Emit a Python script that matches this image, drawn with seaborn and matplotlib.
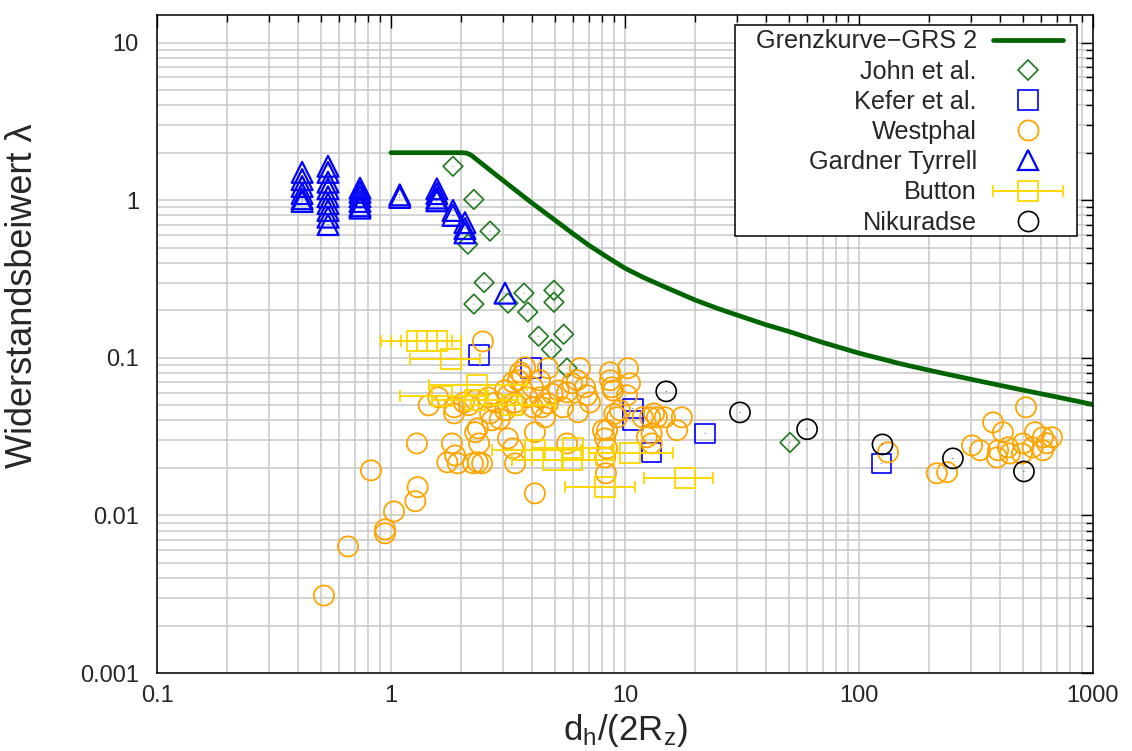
import numpy as np
import matplotlib
matplotlib.use("Agg")
import matplotlib.pyplot as plt
import seaborn as sns
from matplotlib.lines import Line2D
from matplotlib.patches import Rectangle
from matplotlib.ticker import FixedLocator, FixedFormatter, LogLocator, NullFormatter
from matplotlib.legend_handler import HandlerErrorbar
from matplotlib.container import ErrorbarContainer

# ---------------- data ----------------
grenz_x = [1.0, 2.0, 2.1, 2.2, 2.5, 3.0, 3.5, 4.0, 5.0, 6.0, 7.0, 8.5, 10.0, 12.0, 15.0, 20.0, 25.0, 30.0,
           40.0, 50.0, 70.0, 100.0, 150.0, 200.0, 300.0, 500.0, 700.0, 1000.0]
grenz_y = [2.0, 2.0, 1.99, 1.93, 1.66, 1.34, 1.12, 0.96, 0.75, 0.612, 0.518, 0.43, 0.37, 0.323, 0.279, 0.232,
           0.205, 0.187, 0.162, 0.147, 0.125, 0.107, 0.0917, 0.0832, 0.0731, 0.0624, 0.0564, 0.0505]

john_x = [1.84, 2.26, 2.65, 2.13, 2.50, 2.26, 3.16, 3.70, 3.84, 4.97, 4.97, 4.27, 5.47, 4.85, 5.65, 50.7]
john_y = [1.64, 1.01, 0.636, 0.526, 0.30, 0.219, 0.222, 0.257, 0.195, 0.268, 0.225, 0.137, 0.141, 0.113, 0.086, 0.029]

kefer_x = [2.38, 3.96, 10.8, 10.8, 13.0, 22.0, 125.0]
kefer_y = [0.104, 0.086, 0.0478, 0.040, 0.025, 0.0332, 0.0214]

westphal_x = [0.517, 0.655, 0.943, 0.943, 1.03, 1.27, 1.30, 0.821, 1.29,
              2.47, 1.59, 1.45, 1.86, 1.86, 2.29, 2.35, 2.29, 2.38, 1.82, 1.88, 1.74, 1.93, 2.24, 2.35, 2.45,
              3.16, 3.32, 3.39, 2.92, 2.65, 3.07, 3.16, 3.39, 3.49, 3.63, 3.74, 4.12, 2.70, 3.07, 3.32, 3.56,
              3.45, 3.81, 4.04, 4.33, 4.69, 4.69, 4.33, 4.04, 4.12, 2.05, 2.15, 2.60, 2.80,
              4.55, 4.42, 5.43, 5.65, 6.24, 6.42, 6.75, 6.88, 6.30, 7.08, 5.65, 5.94, 5.20, 4.90,
              8.05, 8.22, 8.22, 8.29, 8.63, 8.80, 9.25, 9.52, 10.3, 10.5, 10.2, 12.4, 11.9, 8.63, 8.89, 8.38, 8.38, 9.0,
              12.8, 13.7, 14.8, 17.5, 16.7, 13.0, 13.0, 13.3,
              133.0, 215.0, 238.0, 304.0, 329.0, 374.0, 412.0, 389.0, 433.0, 442.0, 497.0, 502.0, 517.0, 565.0,
              611.0, 668.0, 611.0, 635.0, 393.0, 552.0]
westphal_y = [0.0031, 0.00635, 0.00815, 0.0077, 0.0106, 0.0123, 0.0151, 0.0193, 0.0286,
              0.127, 0.0561, 0.0499, 0.0485, 0.0444, 0.0537, 0.0357, 0.0337, 0.0286, 0.0286, 0.0240, 0.0217, 0.0214, 0.0214, 0.0217, 0.0214,
              0.0308, 0.0266, 0.0214, 0.0410, 0.0444, 0.0464, 0.0578, 0.0521, 0.0720, 0.0774, 0.0871, 0.0138, 0.0401, 0.0622, 0.0700, 0.0809,
              0.0499, 0.0561, 0.0485, 0.0561, 0.0513, 0.0858, 0.0720, 0.0650, 0.0337, 0.0520, 0.0500, 0.0560, 0.0520,
              0.0419, 0.0485, 0.0485, 0.0604, 0.0720, 0.0858, 0.0650, 0.0578, 0.0451, 0.0521, 0.0286, 0.0689, 0.0620, 0.0590,
              0.0347, 0.0308, 0.0233, 0.0185, 0.0809, 0.0650, 0.0419, 0.0464, 0.0858, 0.0689, 0.0578, 0.0313, 0.0419, 0.0720, 0.0620, 0.0347, 0.0266, 0.0440,
              0.0419, 0.0419, 0.0419, 0.0419, 0.0347, 0.0330, 0.0286, 0.0444,
              0.0251, 0.0185, 0.0188, 0.0278, 0.0259, 0.0389, 0.0337, 0.0233, 0.0270, 0.0247, 0.0247, 0.0286, 0.0485, 0.0337,
              0.0313, 0.0313, 0.0259, 0.0287, 0.0259, 0.0270]

gardner_x = [0.417] * 6 + [0.538] * 9 + [0.737] * 6 + [1.09] * 2 + [1.57] * 4 + [1.84] * 2 + [2.07] * 3 + [3.07]
gardner_y = [1.50, 1.35, 1.22, 1.10, 1.02, 0.98,
             1.64, 1.50, 1.30, 1.18, 1.05, 0.95, 0.86, 0.78, 0.70,
             1.19, 1.12, 1.05, 0.98, 0.92, 0.89,
             1.08, 1.04,
             1.18, 1.10, 1.03, 0.99,
             0.86, 0.80,
             0.72, 0.66, 0.62,
             0.257]

button_x = [1.29, 1.43, 1.57, 1.80, 2.33, 1.65, 2.28, 3.29, 4.12, 4.92, 5.93, 5.97, 10.5, 8.22, 18.0]
button_y = [0.127, 0.127, 0.127, 0.098, 0.067, 0.057, 0.054, 0.050, 0.026, 0.0224, 0.0224, 0.0266, 0.025, 0.0151, 0.0172]
button_xlo = [0.91, 1.00, 1.10, 1.21, 1.45, 1.09, 1.50, 2.20, 2.70, 3.30, 4.00, 4.00, 7.00, 5.53, 12.0]
button_xhi = [1.82, 1.99, 1.99, 2.40, 3.80, 2.60, 3.50, 5.00, 6.50, 7.50, 9.00, 9.00, 16.0, 11.0, 23.7]

nik_x = [15.0, 31.0, 60.0, 126.0, 252.0, 507.0]
nik_y = [0.0612, 0.045, 0.0352, 0.0282, 0.023, 0.019]

xtick_vals = [0.1, 1, 10, 100, 1000]
xtick_labels = ["0.1", "1", "10", "100", "1000"]
ytick_vals = [0.001, 0.01, 0.1, 1, 10]
ytick_labels = ["0.001", "0.01", "0.1", "1", "10"]

# ---------------- style ----------------
sns.set_theme(style="white")
plt.rcParams['font.family'] = ['Liberation Sans', 'DejaVu Sans']
plt.rcParams['mathtext.default'] = 'regular'

C_GREEN = "#006400"
C_DIAM = "#1f7a1f"
C_BLUE = "#0000ff"
C_ORANGE = "#ffa500"
C_GOLD = "#ffd700"
C_BLACK = "#000000"

fig = plt.figure(figsize=(11.32, 7.51), dpi=100)
ax = fig.add_axes([157 / 1132, 1 - 673 / 751, (1093 - 157) / 1132, (673 - 15) / 751])
ax.set_xscale("log")
ax.set_yscale("log")
ax.set_xlim(0.1, 1000)
ax.set_ylim(0.001, 14.95)

# grid
ax.set_axisbelow(True)
ax.grid(True, which="both", color="#c8c8c8", linewidth=1.1)

# curve
sns.lineplot(x=grenz_x, y=grenz_y, ax=ax, color=C_GREEN, linewidth=3.4, sort=False, zorder=2)

def pts(x, y, marker, size, color, lw):
    sns.scatterplot(x=x, y=y, ax=ax, marker=marker, s=size ** 2, facecolors="none",
                    edgecolors=color, linewidths=lw, zorder=3)
    sns.scatterplot(x=x, y=y, ax=ax, marker=".", s=2, color=color, edgecolors="none", zorder=3)

pts(john_x, john_y, "D", 10.0, C_DIAM, 1.2)
pts(kefer_x, kefer_y, "s", 14.0, C_BLUE, 1.2)
pts(westphal_x, westphal_y, "o", 14.5, C_ORANGE, 1.3)
pts(gardner_x, gardner_y, "^", 15.0, C_BLUE, 1.6)

bx = np.array(button_x)
xerr = np.vstack([bx - np.array(button_xlo), np.array(button_xhi) - bx])
eb = ax.errorbar(button_x, button_y, xerr=xerr, fmt="s", ms=14.0, mfc="none", mec=C_GOLD, mew=1.3,
                 ecolor=C_GOLD, elinewidth=1.4, capsize=4.5, capthick=1.4, zorder=4, label="Button")
pts(button_x, button_y, ".", 1.0, C_GOLD, 0.5)

pts(nik_x, nik_y, "o", 14.5, C_BLACK, 1.2)

# ticks
for axis, vals, labs in [(ax.xaxis, xtick_vals, xtick_labels), (ax.yaxis, ytick_vals, ytick_labels)]:
    axis.set_major_locator(FixedLocator(vals))
    axis.set_major_formatter(FixedFormatter(labs))
    axis.set_minor_locator(LogLocator(base=10, subs=np.arange(2, 10), numticks=20))
    axis.set_minor_formatter(NullFormatter())
ax.tick_params(which="both", direction="in", top=True, right=True, color="black", width=1.0)
ax.tick_params(which="major", length=9, labelsize=17)
ax.tick_params(which="minor", length=5)
ax.tick_params(axis="y", which="major", pad=13)
ax.tick_params(axis="x", which="major", pad=9)

for sp in ax.spines.values():
    sp.set_color("black")
    sp.set_linewidth(1.1)

ax.set_xlabel("d$_h$/(2R$_z$)", fontsize=25)
ax.set_ylabel("Widerstandsbeiwert λ", fontsize=26)
ax.xaxis.set_label_coords(0.5, -0.060)
ax.yaxis.set_label_coords(-0.125, 0.573)

# legend box (frame drawn separately for the wider left margin of the original)
frame = Rectangle((0.6175, 0.6641), 0.983 - 0.6175, 0.9848 - 0.6641, transform=ax.transAxes,
                  facecolor="white", edgecolor="black", linewidth=1.1, zorder=9)
ax.add_patch(frame)

handles = [
    Line2D([], [], color=C_GREEN, lw=3.4),
    Line2D([], [], ls="none", marker="D", ms=10.0, mfc="none", mec=C_DIAM, mew=1.2),
    Line2D([], [], ls="none", marker="s", ms=14.0, mfc="none", mec=C_BLUE, mew=1.2),
    Line2D([], [], ls="none", marker="o", ms=14.5, mfc="none", mec=C_ORANGE, mew=1.3),
    Line2D([], [], ls="none", marker="^", ms=15.0, mfc="none", mec=C_BLUE, mew=1.6),
    eb,
    Line2D([], [], ls="none", marker="o", ms=14.5, mfc="none", mec=C_BLACK, mew=1.2),
]
labels = ["Grenzkurve−GRS 2", "John et al.", "Kefer et al.", "Westphal", "Gardner Tyrrell", "Button", "Nikuradse"]
leg = ax.legend(handles, labels, loc="upper right", bbox_to_anchor=(0.9727, 0.985), borderaxespad=0,
                markerfirst=False, fontsize=18.2, handlelength=2.77, handletextpad=0.63, labelspacing=0.245,
                borderpad=0.18, frameon=False, numpoints=1,
                handler_map={ErrorbarContainer: HandlerErrorbar(xerr_size=1.385)})
leg.set_zorder(10)

fig.savefig("out.png", dpi=100)
